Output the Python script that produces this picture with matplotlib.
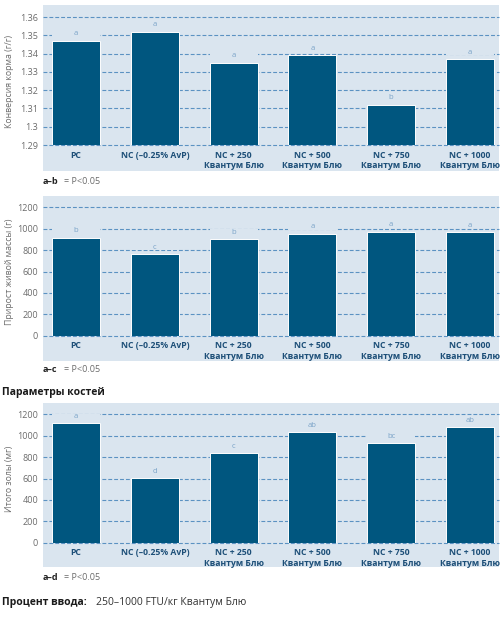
import matplotlib
matplotlib.use("Agg")
import matplotlib.pyplot as plt
from matplotlib.patches import Rectangle
import numpy as np

plt.rcParams['font.family'] = ['Open Sans', 'DejaVu Sans']

# данные
groups = ['PC', 'NC (–0.25% AvP)', 'NC + 250\nКвантум Блю', 'NC + 500\nКвантум Блю',
          'NC + 750\nКвантум Блю', 'NC + 1000\nКвантум Блю']

fcr = [1.347, 1.352, 1.335, 1.339, 1.312, 1.337]
fcr_letters = ['a', 'a', 'a', 'a', 'b', 'a']
fcr_ticks = [1.29, 1.30, 1.31, 1.32, 1.33, 1.34, 1.35, 1.36]

gain = [916, 763, 901, 953, 972, 969]
gain_letters = ['b', 'c', 'b', 'a', 'a', 'a']
gain_ticks = [0, 200, 400, 600, 800, 1000, 1200]

ash = [1116, 602, 836, 1032, 932, 1081]
ash_letters = ['a', 'd', 'c', 'ab', 'bc', 'ab']
ash_ticks = [0, 200, 400, 600, 800, 1000, 1200]

# цвета
BAR = '#00567f'
PANEL = '#dae5ef'
GRID = '#5b92c2'
LETTER = '#7aa3c8'
XLAB = '#1d4f78'
GRAY = '#6b6b6b'

W, H = 500, 619
fig = plt.figure(figsize=(W / 100, H / 100), dpi=100)


def fbox(x0, y0, x1, y1):
    return [x0 / W, 1 - y1 / H, (x1 - x0) / W, (y1 - y0) / H]


def panel(ax_px, bg_px, values, letters, ticks, ylabel, note):
    x0, y0, x1, y1 = bg_px
    fig.patches.append(Rectangle((x0 / W, 1 - y1 / H), (x1 - x0) / W, (y1 - y0) / H,
                                 transform=fig.transFigure, facecolor=PANEL,
                                 edgecolor='none', zorder=-5))
    ax = fig.add_axes(fbox(*ax_px))
    ax.set_facecolor('none')
    for s in ax.spines.values():
        s.set_visible(False)

    lo, hi = ticks[0], ticks[-1]
    ax.set_ylim(lo, hi)
    ax.set_xlim(-0.42, 5.37)
    px = (hi - lo) / (ax_px[3] - ax_px[1])  # данные на пиксель

    for t in ticks:
        ax.axhline(t, color=GRID, lw=0.8, ls=(0, (3.5, 1.8)), zorder=1, clip_on=False)

    x = np.arange(len(values))
    w = 0.61
    ax.bar(x, np.array(values) - lo, w, bottom=lo, color=BAR, edgecolor='white',
           linewidth=0.7, zorder=3)

    for xi, v, l in zip(x, values, letters):
        yl = v + 6.8 * px
        ax.add_patch(Rectangle((xi - w / 2, yl - 3.2 * px), w, 6.4 * px,
                               facecolor=PANEL, edgecolor='none', zorder=2))
        ax.text(xi, yl, l, ha='center', va='center', fontsize=5.5, color=LETTER, zorder=4)

    ax.set_yticks(ticks)
    ax.set_yticklabels(['%g' % t for t in ticks])
    ax.tick_params(axis='y', length=0, pad=3.5, labelsize=6.5, labelcolor=GRAY)
    ax.set_xticks(x)
    ax.set_xticklabels(groups, fontsize=6.2, fontweight='bold', color=XLAB,
                       linespacing=1.2)
    ax.tick_params(axis='x', length=0, pad=4)

    # подпись оси Y
    ymid = (ax_px[1] + ax_px[3]) / 2
    fig.text(10 / W, 1 - ymid / H, ylabel, fontsize=6.3, color=GRAY, rotation=90,
             ha='center', va='center')

    ny = note[0]
    fig.text(43 / W, 1 - ny / H, note[1], fontsize=6.5, fontweight='bold',
             color='#222222', va='center')
    fig.text(64 / W, 1 - ny / H, '= P<0.05', fontsize=6.5, color=GRAY, va='center')
    return ax


panel((43, 17, 499, 145), (43, 5, 499, 171), fcr, fcr_letters, fcr_ticks,
      'Конверсия корма (г/г)', (181, 'a–b'))
panel((43, 207.3, 499, 335.7), (43, 196, 499, 361), gain, gain_letters, gain_ticks,
      'Прирост живой массы (г)', (370, 'a–c'))
panel((43, 414.3, 499, 542.7), (43, 402.7, 499, 567), ash, ash_letters, ash_ticks,
      'Итого золы (мг)', (578, 'a–d'))

fig.text(2 / W, 1 - 392 / H, 'Параметры костей', fontsize=7.5, fontweight='bold',
         color='#1a1a1a', va='center')
fig.text(2 / W, 1 - 603 / H, 'Процент ввода:', fontsize=7.5, fontweight='bold',
         color='#1a1a1a', va='center')
fig.text(96 / W, 1 - 603 / H, '250–1000 FTU/кг Квантум Блю', fontsize=7.5,
         color='#333333', va='center')

fig.savefig('out.png', dpi=100)
